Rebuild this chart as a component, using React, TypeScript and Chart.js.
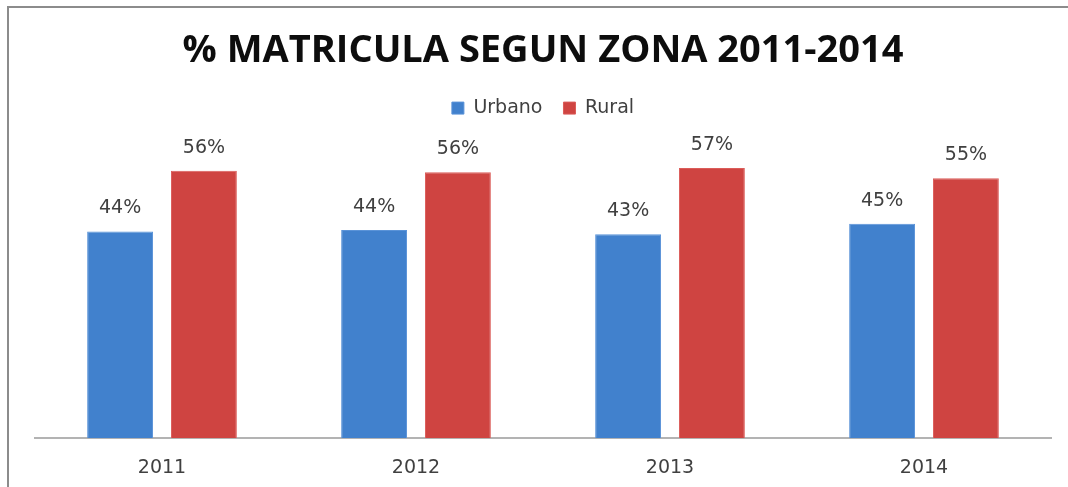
import React, { useEffect, useRef } from "react";
import { Chart, registerables } from "chart.js";

Chart.register(...registerables);

const years = ["2011", "2012", "2013", "2014"];
const urbano = [43.6, 43.9, 43.0, 45.2];
const rural = [56.4, 56.1, 57.0, 54.8];
const titleText = "% MATRICULA SEGUN ZONA 2011-2014";

const labelPlugin = {
  id: "valueLabels",
  afterDatasetsDraw(chart: any) {
    const ctx = chart.ctx;
    ctx.save();
    ctx.font = "19px 'DejaVu Sans'";
    ctx.fillStyle = "#404040";
    ctx.textAlign = "center";
    ctx.textBaseline = "middle";
    chart.data.datasets.forEach((ds: any, i: number) => {
      const meta = chart.getDatasetMeta(i);
      meta.data.forEach((el: any, j: number) => {
        const v = ds.data[j];
        ctx.fillText(Math.round(v) + "%", el.x, el.y - 23);
      });
    });
    ctx.restore();
  },
};

export default function App() {
  const ref = useRef<HTMLCanvasElement>(null);
  useEffect(() => {
    document.body.style.margin = "0";
    const chart = new Chart(ref.current as HTMLCanvasElement, {
      type: "bar",
      data: {
        labels: years,
        datasets: [
          {
            label: "Urbano",
            data: urbano,
            backgroundColor: "#4181cd",
            borderColor: "#5a93d8",
            borderWidth: 1,
          },
          {
            label: "Rural",
            data: rural,
            backgroundColor: "#cf4441",
            borderColor: "#db5c59",
            borderWidth: 1,
          },
        ],
      },
      options: {
        animation: false,
        responsive: false,
        maintainAspectRatio: false,
        layout: { padding: { left: 35, right: 17, bottom: 9, top: 0 } },
        datasets: {
          bar: { categoryPercentage: 0.66, barPercentage: 0.786 },
        },
        plugins: {
          title: {
            display: true,
            text: titleText,
            color: "#0d0d0d",
            font: { family: "'Open Sans'", size: 38, weight: "bold" },
            padding: { top: 28, bottom: 4 },
          },
          legend: {
            display: true,
            labels: {
              boxWidth: 12,
              boxHeight: 12,
              color: "#404040",
              font: { family: "'DejaVu Sans'", size: 19 },
              padding: 21,
            },
          },
          tooltip: { enabled: false },
        },
        scales: {
          x: {
            grid: { display: false, drawTicks: false },
            border: { display: true, color: "#b3b3b3", width: 2 },
            ticks: {
              color: "#404040",
              font: { family: "'DejaVu Sans'", size: 19 },
              padding: 18,
            },
          },
          y: {
            display: false,
            min: 0,
            max: 65.5,
          },
        },
      },
      plugins: [labelPlugin],
    });
    return () => chart.destroy();
  }, []);
  return (
    <div style={{ position: "relative", width: 1068, height: 487, overflow: "hidden", background: "#fff" }}>
      <div
        style={{
          position: "absolute",
          left: 7,
          top: 6,
          width: 1100,
          height: 520,
          borderTop: "2px solid #8c8c8c",
          borderLeft: "2px solid #8c8c8c",
        }}
      />
      <canvas ref={ref} width={1068} height={506} style={{ position: "absolute", left: 0, top: 0 }} />
    </div>
  );
}
